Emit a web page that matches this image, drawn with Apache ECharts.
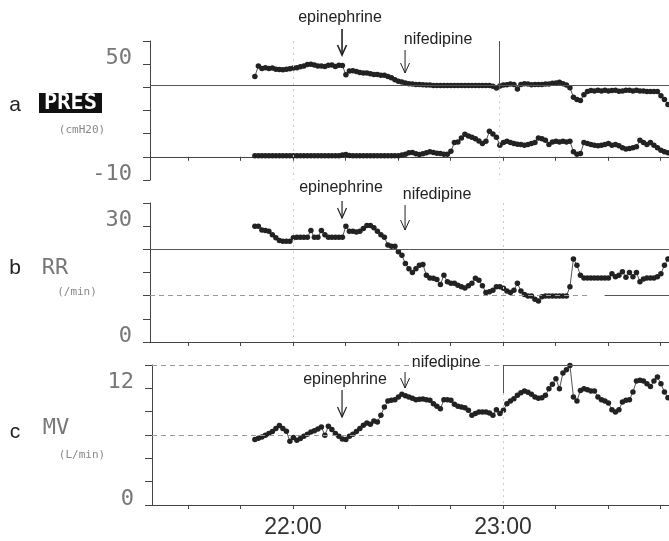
<!DOCTYPE html>
<html><head><meta charset="utf-8">
<script src="https://cdn.jsdelivr.net/npm/echarts@6/dist/echarts.min.js"></script>
<style>html,body{margin:0;padding:0;background:#fff}#c{width:669px;height:541px}</style>
</head><body><div id="c"></div>
<script>
// one sample per minute, first sample at ~21:49 (minutes since midnight)
const startMinute = 1309.1;
const presPeak = [
 43.6,49.1,47.8,48.1,47.8,48.0,47.4,47.2,47.1,47.4,
 47.6,48.0,48.1,48.6,49.1,49.8,50.0,49.6,49.1,49.1,
 48.8,49.5,49.6,48.8,49.5,49.3,44.5,46.4,46.6,46.2,
 45.7,45.4,45.4,45.0,44.7,44.7,44.3,44.2,43.6,43.0,
 41.9,41.2,40.7,40.2,39.9,39.7,39.5,39.5,39.4,39.2,
 39.2,39.0,39.0,38.9,38.9,38.9,38.9,38.9,38.9,38.9,
 38.9,38.9,38.9,38.9,38.9,38.9,38.9,38.9,38.5,37.7,
 38.7,39.2,39.4,39.7,39.5,37.1,39.5,39.9,39.7,39.4,
 39.5,39.5,39.5,39.7,39.7,40.1,40.2,40.6,39.9,39.2,
 37.8,32.9,31.7,31.2,34.1,35.8,36.3,36.1,36.5,36.1,
 36.5,36.1,36.3,36.5,36.0,36.1,36.5,36.5,36.1,36.5,
 36.1,36.1,35.8,35.8,35.8,35.8,33.7,31.7,29.1];
const presLow = [
 2.5,2.5,2.5,2.5,2.5,2.5,2.5,2.5,2.5,2.5,
 2.5,2.5,2.5,2.5,2.5,2.5,2.5,2.5,2.5,2.5,
 2.5,2.5,2.5,2.5,2.6,3.0,3.2,2.7,2.5,2.5,
 2.5,2.5,2.5,2.5,2.5,2.5,2.5,2.5,2.5,2.5,
 2.5,2.5,2.9,3.4,4.1,4.3,3.6,3.2,3.6,4.1,
 4.6,4.3,3.9,3.7,3.4,3.4,4.9,9.4,9.7,11.8,
 13.7,12.8,12.1,11.4,10.2,8.9,10.1,15.2,13.8,12.1,
 8.0,9.4,10.1,9.4,8.9,8.5,8.4,8.0,8.4,8.9,
 9.4,11.8,11.4,10.6,8.4,9.7,10.1,9.7,10.1,9.7,
 10.1,4.6,3.4,3.7,9.4,8.9,8.4,8.0,7.7,8.0,
 8.4,8.9,8.0,8.4,7.7,6.7,6.0,6.3,6.7,7.2,
 10.6,9.4,8.4,9.4,8.0,6.7,5.4,4.6,4.1];
const respRate = [
 30.0,30.0,29.0,28.9,28.7,27.8,27.0,26.3,26.1,26.1,
 26.1,27.0,27.1,27.1,27.1,27.1,28.9,27.1,27.1,28.9,
 27.8,27.1,27.1,27.1,27.1,27.1,30.0,28.7,28.7,28.5,
 28.7,29.4,30.2,30.2,29.6,28.7,27.8,27.1,25.1,24.8,
 24.8,23.4,22.5,20.3,19.0,18.0,19.0,19.9,20.1,17.3,
 16.6,16.5,16.2,14.9,17.3,15.6,15.2,15.2,14.7,14.3,
 14.0,14.6,15.2,16.5,16.0,14.6,12.8,13.0,13.4,14.3,
 14.3,13.9,13.2,12.8,13.4,15.2,13.2,12.3,11.9,11.9,
 11.1,10.6,11.7,11.9,11.9,11.9,11.9,11.9,11.9,11.9,
 14.3,21.5,19.9,17.3,16.6,16.6,16.6,16.6,16.6,16.6,
 16.6,16.6,17.7,16.9,17.3,18.2,16.8,18.0,16.9,18.0,
 15.6,16.3,16.6,16.6,16.6,16.9,17.7,19.9,21.5];
const minuteVent = [
 6.73,6.87,7.0,7.17,7.35,7.55,7.86,8.17,7.86,7.59,
 6.56,6.94,6.66,6.83,7.07,7.28,7.52,7.65,7.82,8.03,
 7.17,8.1,7.76,7.35,7.07,6.8,6.73,7.07,7.28,7.55,
 7.86,8.2,8.44,8.3,8.65,8.54,9.23,10.08,10.7,10.77,
 10.83,11.11,11.38,11.25,11.11,10.97,10.83,10.87,10.9,10.83,
 10.77,10.42,10.15,9.91,10.83,10.83,10.77,10.36,10.15,10.08,
 10.01,9.74,9.23,9.4,9.57,9.57,9.57,9.47,9.23,9.81,
 9.4,9.74,10.42,10.7,10.94,11.28,11.55,11.72,11.59,11.38,
 11.11,10.97,11.04,11.28,11.96,12.41,12.99,11.96,13.57,13.91,
 14.36,11.11,10.7,11.79,11.96,11.86,11.72,11.72,11.11,10.83,
 10.7,10.49,9.81,9.57,9.81,10.6,10.77,10.83,11.62,12.75,
 12.82,12.75,12.48,12.2,12.75,13.16,12.48,11.62,11.04];
const xTickMinutes = [1290,1305,1320,1335,1350,1365,1380,1395,1410,1425];
const xLabelMinutes = [1320,1380];
const presLabels = [50,-10];
const rrLabels = [30,0];
const mvLabels = [12,0];
const events = [{name:'epinephrine', minute:1334}, {name:'nifedipine', minute:1352}];
const presRef = 39, rrRefHigh = 24, rrRefLow = 12, mvRef = 7.2, mvTop = 14.4;

const xMax = 1427.4;
const times = presPeak.map((_, i) => startMinute + i);
const pairs = arr => times.map((t, i) => [t, arr[i]]);
const fmtTime = v => { const h = Math.floor(v / 60), m = Math.round(v - h * 60); return h + ':' + String(m).padStart(2, '0'); };

function xAx(gi, min, showLabels, offset) {
  return {type:'value', gridIndex:gi, min:min, max:xMax, position:'bottom', offset:offset||0,
    axisLine:{show:true, onZero:false, lineStyle:{color:'#444', width:1}},
    axisTick:{show:true, customValues:xTickMinutes, length:4, lineStyle:{color:'#444'}},
    axisLabel:{show:showLabels, customValues:xLabelMinutes, formatter:fmtTime, margin:11,
      fontSize:23, color:'#333', fontFamily:'Liberation Sans'},
    splitLine:{show:false}};
}
function yAx(gi, min, max, interval, labels) {
  return {type:'value', gridIndex:gi, min:min, max:max, interval:interval,
    axisLine:{show:true, lineStyle:{color:'#444'}},
    axisTick:{show:true, length:7, lineStyle:{color:'#444'}},
    axisLabel:{show:true, margin:18, fontFamily:'DejaVu Sans Mono', fontSize:22, color:'#777',
      verticalAlign:'bottom', lineHeight:12,
      formatter: v => { const l = labels.find(x => Math.abs(x - v) < 1e-6); return l === undefined ? '' : String(l); }},
    splitLine:{show:false}};
}
const solid = {color:'#555', width:1, type:'solid'};
const dashed = {color:'#999', width:1, type:[5,4]};
const faint = {color:'#ccc', width:1, type:[2,4]};
function seg(x1,y1,x2,y2,ls){ return [{coord:[x1,y1], lineStyle:ls},{coord:[x2,y2]}]; }
function dotSeries(name, gi, arr, marks) {
  const s = {name:name, type:'line', xAxisIndex:gi, yAxisIndex:gi, data:pairs(arr),
    showSymbol:true, showAllSymbol:true, symbol:'circle', symbolSize:5.5,
    itemStyle:{color:'#222'}, lineStyle:{color:'#555', width:1}, animation:false, z:3};
  if (marks) s.markLine = {symbol:['none','none'], silent:true, label:{show:false}, animation:false, data:marks};
  return s;
}

const chart = echarts.init(document.getElementById('c'), null, {renderer:'canvas'});
const minA = 1320 - 143/3.5, minC = 1320 - 141/3.5;
chart.setOption({
  backgroundColor:'#fff',
  animation:false,
  grid:[
    {left:150, top:41, width:519, height:139},
    {left:150, top:203, width:519, height:139},
    {left:152, top:365, width:517, height:140}
  ],
  xAxis:[ xAx(0, minA, false, -23.2), xAx(1, minA, false, 0), xAx(2, minC, true, 0) ],
  yAxis:[ yAx(0, -10, 62, 12, presLabels), yAx(1, 0, 36, 6, rrLabels), yAx(2, 0, 14.4, 2.4, mvLabels) ],
  series:[
    dotSeries('PRES peak', 0, presPeak, [
      seg(minA, presRef, xMax, presRef, solid),
      seg(1320, 62, 1320, -10, faint),
      seg(1379, 62, 1379, 37, solid),
      seg(1379, 37, 1379, -10, faint)
    ]),
    dotSeries('PRES low', 0, presLow),
    dotSeries('RR', 1, respRate, [
      seg(minA, rrRefHigh, xMax, rrRefHigh, solid),
      seg(minA, rrRefLow, 1405, rrRefLow, dashed),
      seg(1409, rrRefLow, xMax, rrRefLow, solid),
      seg(1320, 36, 1320, 0, faint),
      seg(1380, 36, 1380, 0, faint)
    ]),
    dotSeries('MV', 2, minuteVent, [
      seg(minC, mvRef, xMax, mvRef, dashed),
      seg(minC, mvTop, 1380, mvTop, dashed),
      seg(1380, mvTop, xMax, mvTop, solid),
      seg(1380, mvTop, 1380, 11.5, solid),
      seg(1380, 11.5, 1380, 0, faint)
    ])
  ]
});

// annotations and panel titles
const g = [];
function txt(x, y, s, font, fill, align) {
  g.push({type:'text', x:x, y:y, silent:true, z:10,
    style:{text:s, fill:fill||'#222', font:font||'16px "Liberation Sans"',
      textAlign:align||'center', textVerticalAlign:'middle', align:align||'center', verticalAlign:'middle'}});
}
function arrow(x, y1, y2, w) {
  g.push({type:'line', silent:true, z:10, shape:{x1:x, y1:y1, x2:x, y2:y2}, style:{stroke:'#222', lineWidth:w}});
  g.push({type:'polyline', silent:true, z:10, shape:{points:[[x-4.5, y2-10],[x, y2],[x+4.5, y2-10]]}, style:{stroke:'#222', lineWidth:w, fill:null}});
}
const xe = [0,1,2].map(gi => chart.convertToPixel({xAxisIndex:gi}, events[0].minute));
const xn = [0,1,2].map(gi => chart.convertToPixel({xAxisIndex:gi}, events[1].minute));
// panel a
txt(xe[0]-2, 18, events[0].name); arrow(xe[0], 29, 55, 1.6);
txt(xn[0]+33, 40, events[1].name); arrow(xn[0], 50, 73, 1);
// panel b
txt(xe[1]-1, 188, events[0].name); arrow(xe[1], 201, 218, 1.2);
txt(xn[1]+32, 195, events[1].name); arrow(xn[1], 205, 230, 1);
// panel c
txt(xe[2]+3, 380, events[0].name); arrow(xe[2], 390, 417, 1.2);
txt(xn[2]+41, 363, events[1].name); arrow(xn[2], 372, 388, 1);
// titles
txt(15, 105, 'a', '21px "Liberation Sans"');
g.push({type:'rect', silent:true, shape:{x:39, y:93, width:63, height:20}, style:{fill:'#111'}});
txt(70.5, 103.5, 'PRES', 'bold 22px "DejaVu Sans Mono"', '#fff');
txt(82, 130, '(cmH20)', '11px "DejaVu Sans Mono"', '#888');
txt(15, 268, 'b', '21px "Liberation Sans"');
txt(55, 268, 'RR', '22px "DejaVu Sans Mono"', '#777');
txt(77, 292, '(/min)', '11px "DejaVu Sans Mono"', '#888');
txt(15, 432, 'c', '21px "Liberation Sans"');
txt(56, 428, 'MV', '22px "DejaVu Sans Mono"', '#777');
txt(82, 455, '(L/min)', '11px "DejaVu Sans Mono"', '#888');
chart.setOption({graphic:{elements:g}});
</script></body></html>
